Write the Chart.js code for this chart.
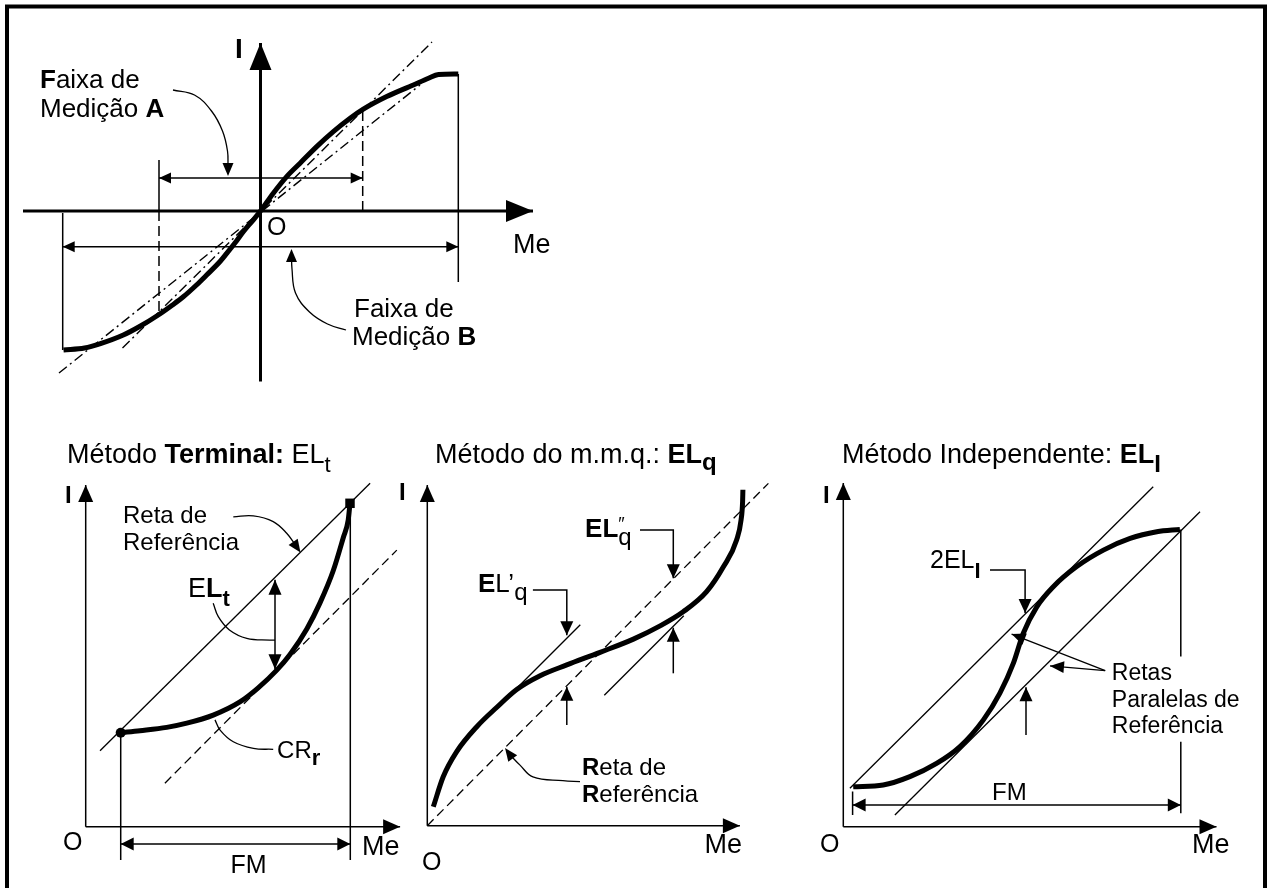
<!DOCTYPE html>
<html>
<head>
<meta charset="utf-8">
<script src="https://cdn.jsdelivr.net/npm/chart.js@4.4.1/dist/chart.umd.min.js"></script>
<style>
html,body{margin:0;padding:0;background:#fff;overflow:hidden}
canvas{display:block}
</style>
</head>
<body>
<canvas id="c" width="1269" height="888"></canvas>
<script>
// ================= DATA (diagram units, origin at each panel's O) =================
// Panel 0 - characteristic curve I(Me), two measuring ranges
const sCurveMe = [-98.5, -88, -80, -68.6, -60, -51.1, -44, -38.6, -32, -26.9, -20, -16.9, -12, -8.6, -4, 0, 6.4, 13.1, 19.8, 28.1, 36.4, 44.8, 51.4, 63.1, 76.4, 84, 89, 98.9];
const sCurveI  = [-69.5, -68.5, -66.3, -62, -57.5, -52, -47, -42.9, -37, -32, -25, -21.2, -15, -10.4, -4.9, 0, 8.9, 17.2, 23.9, 32.2, 39.7, 46.4, 50.9, 57.2, 63, 66.4, 68.2, 68.5];
const steepMe = [-69, 85.75],     steepI = [-68.5, 84.5];
const shallowMe = [-100.75, 79.75], shallowI = [-81, 63];
const rangeAMe = [-50.75, 51.1];   // Faixa de Medição A
const rangeBMe = [-98.9, 98.9];    // Faixa de Medição B
const rangeAArrowI = 16.5, rangeBArrowI = -17.85;
const leaderAMe = [-43.75, -33, -24.5, -19, -16.5, -16.25], leaderAI = [60.5, 58, 50, 40, 30, 22];
const leaderBMe = [15.5, 15.75, 17.5, 24.5, 33.5, 42.75], leaderBI = [-21, -29, -41, -50.5, -56.5, -59.5];

// Panel 1 - Método Terminal
const termCurveMe = [11.67, 18.1, 27, 33.7, 42.5, 51.4, 57.5, 63.7, 68.1, 73.7, 78.1, 82.5, 85.9, 87.5, 88.1];
const termCurveI  = [31.33, 32, 33.1, 34.5, 37.2, 41.6, 46.3, 52.2, 57.4, 65.9, 74.6, 85.3, 96.5, 102.2, 107.8];
const termRefMe = [4.77, 94.8],  termRefI = [25.3, 114.5];
const termDashMe = [26.4, 103.7], termDashI = [14.5, 92.2];
const termFM = [11.67, 88.2];
const termElMe = 63.1, termElI = [52.5, 82.3];
const termLeadElMe = [42.5, 44.2, 47.9, 53.7, 61.4, 63.1], termLeadElI = [74.5, 70, 65.6, 62.8, 62.2, 62.2];
const termLeadCrMe = [43.1, 44.8, 49.2, 55.9, 62.5],     termLeadCrI = [35.6, 32.2, 28.3, 26.1, 25.8];
const termLeadRefMe = [49.2, 55.9, 62.5, 67, 70.3],      termLeadRefI = [103.3, 103.6, 101.7, 97.8, 93.3];

// Panel 2 - Método do m.m.q.
const mmqCurveMe = [2, 5.3, 9.8, 16.5, 23.1, 29.8, 37.6, 46.5, 57.6, 68.7, 77.6, 85.3, 93.1, 98.7, 103.1, 104.6, 105.1, 105.2];
const mmqCurveI  = [6.3, 16.3, 24.7, 33, 39.4, 45.4, 50, 53.6, 57.8, 62.2, 66.6, 71.3, 78, 86.3, 95.2, 102, 108, 112];
const mmqRefMe = [0, 113.7],  mmqRefI = [0, 114.1];
const mmqTan1Me = [27.5, 51], mmqTan1I = [43.5, 67];
const mmqTan2Me = [59, 85.5], mmqTan2I = [43.5, 70];
const mmqLeadRefMe = [50.9, 45.2, 35.2, 30.9, 27.6], mmqLeadRefI = [14.7, 15, 16.3, 20.2, 23.6];

// Panel 3 - Método Independente
const indCurveMe = [3.3, 13.3, 22.2, 31.1, 38.9, 46.7, 52.2, 56.7, 60, 64.5, 70, 77.8, 86.7, 95.6, 104.5, 112.2];
const indCurveI  = [13.3, 13.9, 16.7, 21.1, 26.7, 35.6, 44.5, 54.5, 64.5, 73.3, 80, 86.7, 92.2, 96.1, 98.3, 99.1];
const indUpperMe = [2.2, 103.3],  indUpperI = [12.8, 113.3];
const indLowerMe = [17.2, 118.9], indLowerI = [3.9, 105];
const indFM = [3.1, 112.5];

// ================= LAYOUT (pixel placement of each panel's origin) =================
const W = 1269, H = 888;
const PANELS = [
  {ox: 260.5, oy: 211,   s: 2},
  {ox: 85.7,  oy: 826.7, s: 3},
  {ox: 427.3, oy: 825.7, s: 3},
  {ox: 843.3, oy: 826.7, s: 3}
];
const FONT = '"Liberation Sans", Arial, Helvetica, sans-serif';

function pts(xs, ys) { return xs.map((x, i) => ({x: x, y: ys[i]})); }
function ds(p, xs, ys, o) {
  return Object.assign({
    xAxisID: 'x' + p, yAxisID: 'y' + p, data: pts(xs, ys), showLine: true,
    pointRadius: 0, borderColor: '#000', backgroundColor: '#000', borderWidth: 1.3,
    fill: false, tension: 0
  }, o || {});
}
const DASH = [9, 5], DASHDOT = [10, 4, 2, 4];
const THICK = {borderWidth: 5, cubicInterpolationMode: 'monotone', borderCapStyle: 'butt', borderJoinStyle: 'round'};
const LEAD = {borderWidth: 1.3, tension: 0.4};

const datasets = [
  // panel 0
  ds(0, steepMe, steepI, {borderDash: DASHDOT, borderWidth: 1.4}),
  ds(0, shallowMe, shallowI, {borderDash: DASHDOT, borderWidth: 1.4}),
  ds(0, [rangeAMe[0], rangeAMe[0]], [25.5, 0], {borderWidth: 1.5}),
  ds(0, [rangeAMe[0], rangeAMe[0]], [0, -52], {borderDash: [10, 5], borderWidth: 1.5}),
  ds(0, [rangeAMe[1], rangeAMe[1]], [0, 50.9], {borderDash: [10, 5], borderWidth: 1.5}),
  ds(0, [rangeBMe[1], rangeBMe[1]], [68.5, -35.5], {borderWidth: 1.5}),
  ds(0, [rangeBMe[0], rangeBMe[0]], [-1, -69.5], {borderWidth: 1.5}),
  ds(0, leaderAMe, leaderAI, LEAD),
  ds(0, leaderBMe, leaderBI, LEAD),
  ds(0, sCurveMe, sCurveI, THICK),
  // panel 1
  ds(1, termRefMe, termRefI, {borderWidth: 1.3}),
  ds(1, termDashMe, termDashI, {borderDash: DASH, borderWidth: 1.3}),
  ds(1, [termFM[0], termFM[0]], [termCurveI[0], -11.1], {borderWidth: 1.5}),
  ds(1, [termFM[1], termFM[1]], [termCurveI[termCurveI.length - 1], -11.1], {borderWidth: 1.5}),
  ds(1, termLeadElMe, termLeadElI, LEAD),
  ds(1, termLeadCrMe, termLeadCrI, LEAD),
  ds(1, termLeadRefMe, termLeadRefI, LEAD),
  ds(1, termCurveMe, termCurveI, THICK),
  ds(1, [termCurveMe[0], termCurveMe[termCurveMe.length - 1]], [termCurveI[0], termCurveI[termCurveI.length - 1]],
     {showLine: false, pointRadius: [5, 6.7], pointStyle: ['circle', 'rect'], pointBackgroundColor: '#000', pointBorderWidth: 0}),
  // panel 2
  ds(2, mmqRefMe, mmqRefI, {borderDash: DASH, borderWidth: 1.3}),
  ds(2, mmqTan1Me, mmqTan1I, {borderWidth: 1.3}),
  ds(2, mmqTan2Me, mmqTan2I, {borderWidth: 1.3}),
  ds(2, mmqLeadRefMe, mmqLeadRefI, LEAD),
  ds(2, mmqCurveMe, mmqCurveI, THICK),
  // panel 3
  ds(3, indUpperMe, indUpperI, {borderWidth: 1.3}),
  ds(3, indLowerMe, indLowerI, {borderWidth: 1.3}),
  ds(3, [indFM[1], indFM[1]], [indCurveI[indCurveI.length - 1], 56.7], {borderWidth: 1.5}),
  ds(3, [indFM[1], indFM[1]], [28.3, 4.5], {borderWidth: 1.5}),
  ds(3, [indFM[0], indFM[0]], [11.7, 3.9], {borderWidth: 1.5}),
  ds(3, indCurveMe, indCurveI, THICK)
];

// arrows: polyline in panel units, heads drawn at ends
const AX = {lw: 1.5, hl: 17, hw: 7.5};
const SM = {lw: 1.5, hl: 14, hw: 6.5};
const ARROWS = [
  Object.assign({p: 0, pts: [[-118.75, 0], [136.25, 0]], heads: 'end'}, {lw: 3, hl: 27, hw: 11}),
  Object.assign({p: 0, pts: [[0, -85.3], [0, 84]], heads: 'end'}, {lw: 3, hl: 27, hw: 11}),
  {p: 0, pts: [[rangeAMe[0], rangeAArrowI], [rangeAMe[1], rangeAArrowI]], heads: 'both', lw: 1.5, hl: 12, hw: 5.5},
  {p: 0, pts: [[rangeBMe[0], rangeBArrowI], [rangeBMe[1], rangeBArrowI]], heads: 'both', lw: 1.5, hl: 12, hw: 5.5},
  {p: 0, pts: [[-16.25, 24], [-16.25, 17.5]], heads: 'end', lw: 0, hl: 13, hw: 5.5},
  {p: 0, pts: [[15.5, -27], [15.5, -19]], heads: 'end', lw: 0, hl: 13, hw: 5.5},

  Object.assign({p: 1, pts: [[0, 0], [104.8, 0]], heads: 'end'}, AX),
  Object.assign({p: 1, pts: [[0, 0], [0, 113.9]], heads: 'end'}, AX),
  Object.assign({p: 1, pts: [[termFM[0], -5.77], [termFM[1], -5.77]], heads: 'both'}, {lw: 1.5, hl: 13, hw: 6.5}),
  Object.assign({p: 1, pts: [[termElMe, termElI[0]], [termElMe, termElI[1]]], heads: 'both'}, {lw: 1.5, hl: 15, hw: 6.5}),
  {p: 1, pts: [[70.3, 93.3], [71.6, 91.4]], heads: 'end', lw: 0, hl: 13, hw: 5.5},

  Object.assign({p: 2, pts: [[0, 0], [104.2, 0]], heads: 'end'}, AX),
  Object.assign({p: 2, pts: [[0, 0], [0, 113.6]], heads: 'end'}, AX),
  Object.assign({p: 2, pts: [[35.2, 78.6], [46.5, 78.6], [46.5, 63.5]], heads: 'end'}, SM),
  Object.assign({p: 2, pts: [[70.9, 98.6], [82, 98.6], [82, 82.5]], heads: 'end'}, SM),
  Object.assign({p: 2, pts: [[46.5, 33.6], [46.5, 46.3]], heads: 'end'}, SM),
  Object.assign({p: 2, pts: [[82, 50.8], [82, 66]], heads: 'end'}, SM),
  {p: 2, pts: [[27.6, 23.6], [25.9, 25.9]], heads: 'end', lw: 0, hl: 13, hw: 5.5},

  Object.assign({p: 3, pts: [[0, 0], [124.4, 0]], heads: 'end'}, AX),
  Object.assign({p: 3, pts: [[0, 0], [0, 114.6]], heads: 'end'}, AX),
  Object.assign({p: 3, pts: [[indFM[0], 7.2], [indFM[1], 7.2]], heads: 'both'}, {lw: 1.5, hl: 13, hw: 6.5}),
  Object.assign({p: 3, pts: [[48.9, 85.6], [60.6, 85.6], [60.6, 71.2]], heads: 'end'}, SM),
  Object.assign({p: 3, pts: [[60.9, 30.6], [60.9, 46.5]], heads: 'end'}, SM),
  {p: 3, pts: [[87.3, 52], [56.1, 64.2]], heads: 'end', lw: 1.3, hl: 14, hw: 6},
  {p: 3, pts: [[87.3, 52], [68.9, 53.6]], heads: 'end', lw: 1.3, hl: 14, hw: 6}
];

// texts: parts = [text, bold, size, dy, noAdvance]
const TEXTS = [
  {p: 0, x: -12.75, y: 76.5, size: 28, parts: [['I', 1]]},
  {p: 0, x: -110.25, y: 61.5, size: 26, parts: [['F', 1], ['aixa de']]},
  {p: 0, x: -110.25, y: 47, size: 26, parts: [['Medição '], ['A', 1]]},
  {p: 0, x: 3.25, y: -12, size: 25, parts: [['O']]},
  {p: 0, x: 126.25, y: -21, size: 27, parts: [['Me']]},
  {p: 0, x: 46.75, y: -53, size: 26, parts: [['Faixa de']]},
  {p: 0, x: 45.75, y: -67, size: 26, parts: [['Medição '], ['B', 1]]},

  {p: 1, x: -6.23, y: 121.2, size: 27, parts: [['Método '], ['Terminal:', 1], [' EL'], ['t', 0, 22, 9]]},
  {p: 1, x: -6.9, y: 107.9, size: 24, parts: [['I', 1]]},
  {p: 1, x: 12.43, y: 101.2, size: 24, parts: [['Reta de']]},
  {p: 1, x: 12.43, y: 92.2, size: 24, parts: [['Referência']]},
  {p: 1, x: 34.1, y: 76.6, size: 27, parts: [['E'], ['L', 1], ['t', 1, 22, 9]]},
  {p: 1, x: 63.8, y: 22.9, size: 24, parts: [['CR'], ['r', 1, 22, 7]]},
  {p: 1, x: -7.57, y: -7.77, size: 25, parts: [['O']]},
  {p: 1, x: 92.1, y: -9.43, size: 27, parts: [['Me']]},
  {p: 1, x: 54.3, y: -15.4, size: 25, align: 'center', parts: [['FM']]},

  {p: 2, x: 2.57, y: 120.9, size: 27, parts: [['Método do m.m.q.: '], ['EL', 1], ['q', 1, 24, 7]]},
  {p: 2, x: -9.43, y: 108.6, size: 24, parts: [['I', 1]]},
  {p: 2, x: 16.9, y: 78, size: 26, parts: [['E', 1], ['L’'], ['q', 0, 24, 8]]},
  {p: 2, x: 52.6, y: 96.2, size: 26, parts: [['EL', 1], ['″', 0, 18, -7, 1], ['q', 0, 24, 8]]},
  {p: 2, x: 51.57, y: 16.9, size: 24, parts: [['R', 1], ['eta de']]},
  {p: 2, x: 51.57, y: 7.9, size: 24, parts: [['R', 1], ['eferência']]},
  {p: 2, x: -1.77, y: -14.77, size: 25, parts: [['O']]},
  {p: 2, x: 92.43, y: -9.1, size: 27, parts: [['Me']]},

  {p: 3, x: -0.43, y: 121.2, size: 27, parts: [['Método Independente: '], ['EL', 1], ['I', 1, 24, 9]]},
  {p: 3, x: -6.77, y: 107.9, size: 24, parts: [['I', 1]]},
  {p: 3, x: 28.9, y: 86.1, size: 25, parts: [['2EL'], ['I', 1, 22, 10]]},
  {p: 3, x: 89.5, y: 48.9, size: 23, parts: [['Retas']]},
  {p: 3, x: 89.5, y: 40, size: 23, parts: [['Paralelas de']]},
  {p: 3, x: 89.5, y: 31.1, size: 23, parts: [['Referência']]},
  {p: 3, x: 49.6, y: 8.9, size: 24, parts: [['FM']]},
  {p: 3, x: -7.77, y: -8.43, size: 25, parts: [['O']]},
  {p: 3, x: 116.2, y: -8.77, size: 27, parts: [['Me']]}
];

// ================= RENDER =================
const scales = {};
PANELS.forEach((P, i) => {
  scales['x' + i] = {type: 'linear', display: false, min: -P.ox / P.s, max: (W - P.ox) / P.s};
  scales['y' + i] = {type: 'linear', display: false, min: -(H - P.oy) / P.s, max: P.oy / P.s};
});

function px(chart, p, x, y) {
  return [chart.scales['x' + p].getPixelForValue(x), chart.scales['y' + p].getPixelForValue(y)];
}
function drawHead(ctx, tip, from, hl, hw) {
  const dx = tip[0] - from[0], dy = tip[1] - from[1];
  const L = Math.hypot(dx, dy) || 1, ux = dx / L, uy = dy / L;
  const bx = tip[0] - ux * hl, by = tip[1] - uy * hl;
  ctx.beginPath();
  ctx.moveTo(tip[0], tip[1]);
  ctx.lineTo(bx - uy * hw, by + ux * hw);
  ctx.lineTo(bx + uy * hw, by - ux * hw);
  ctx.closePath();
  ctx.fill();
}

const diagramPlugin = {
  id: 'diagram',
  beforeDraw(chart) {
    const ctx = chart.ctx;
    ctx.save();
    ctx.fillStyle = '#fff';
    ctx.fillRect(0, 0, chart.width, chart.height);
    ctx.strokeStyle = '#000';
    ctx.lineWidth = 4;
    ctx.beginPath();
    ctx.moveTo(7, H + 5);
    ctx.lineTo(7, 6.5);
    ctx.lineTo(1265, 6.5);
    ctx.lineTo(1265, H + 5);
    ctx.stroke();
    ctx.restore();
  },
  afterDatasetsDraw(chart) {
    const ctx = chart.ctx;
    ctx.save();
    ctx.strokeStyle = '#000';
    ctx.fillStyle = '#000';
    ctx.lineCap = 'butt';
    ARROWS.forEach(a => {
      const P = a.pts.map(q => px(chart, a.p, q[0], q[1]));
      if (a.lw > 0) {
        ctx.lineWidth = a.lw;
        ctx.setLineDash([]);
        ctx.beginPath();
        ctx.moveTo(P[0][0], P[0][1]);
        for (let i = 1; i < P.length; i++) ctx.lineTo(P[i][0], P[i][1]);
        ctx.stroke();
      }
      const n = P.length;
      if (a.heads === 'end' || a.heads === 'both') drawHead(ctx, P[n - 1], P[n - 2], a.hl, a.hw);
      if (a.heads === 'start' || a.heads === 'both') drawHead(ctx, P[0], P[1], a.hl, a.hw);
    });
    ctx.textBaseline = 'alphabetic';
    TEXTS.forEach(t => {
      const pos = px(chart, t.p, t.x, t.y);
      const fonts = t.parts.map(pt => (pt[1] ? 'bold ' : '') + (pt[2] || t.size) + 'px ' + FONT);
      let total = 0;
      t.parts.forEach((pt, i) => { ctx.font = fonts[i]; if (!pt[4]) total += ctx.measureText(pt[0]).width; });
      let x = pos[0] - (t.align === 'center' ? total / 2 : 0);
      t.parts.forEach((pt, i) => {
        ctx.font = fonts[i];
        ctx.textAlign = 'left';
        ctx.fillText(pt[0], x, pos[1] + (pt[3] || 0));
        if (!pt[4]) x += ctx.measureText(pt[0]).width;
      });
    });
    ctx.restore();
  }
};

new Chart(document.getElementById('c'), {
  type: 'scatter',
  data: {datasets: datasets},
  options: {
    responsive: false,
    animation: false,
    events: [],
    layout: {padding: 0, autoPadding: false},
    plugins: {legend: {display: false}, tooltip: {enabled: false}, title: {display: false}},
    scales: scales,
    elements: {line: {borderCapStyle: 'butt'}}
  },
  plugins: [diagramPlugin]
});
</script>
</body>
</html>
